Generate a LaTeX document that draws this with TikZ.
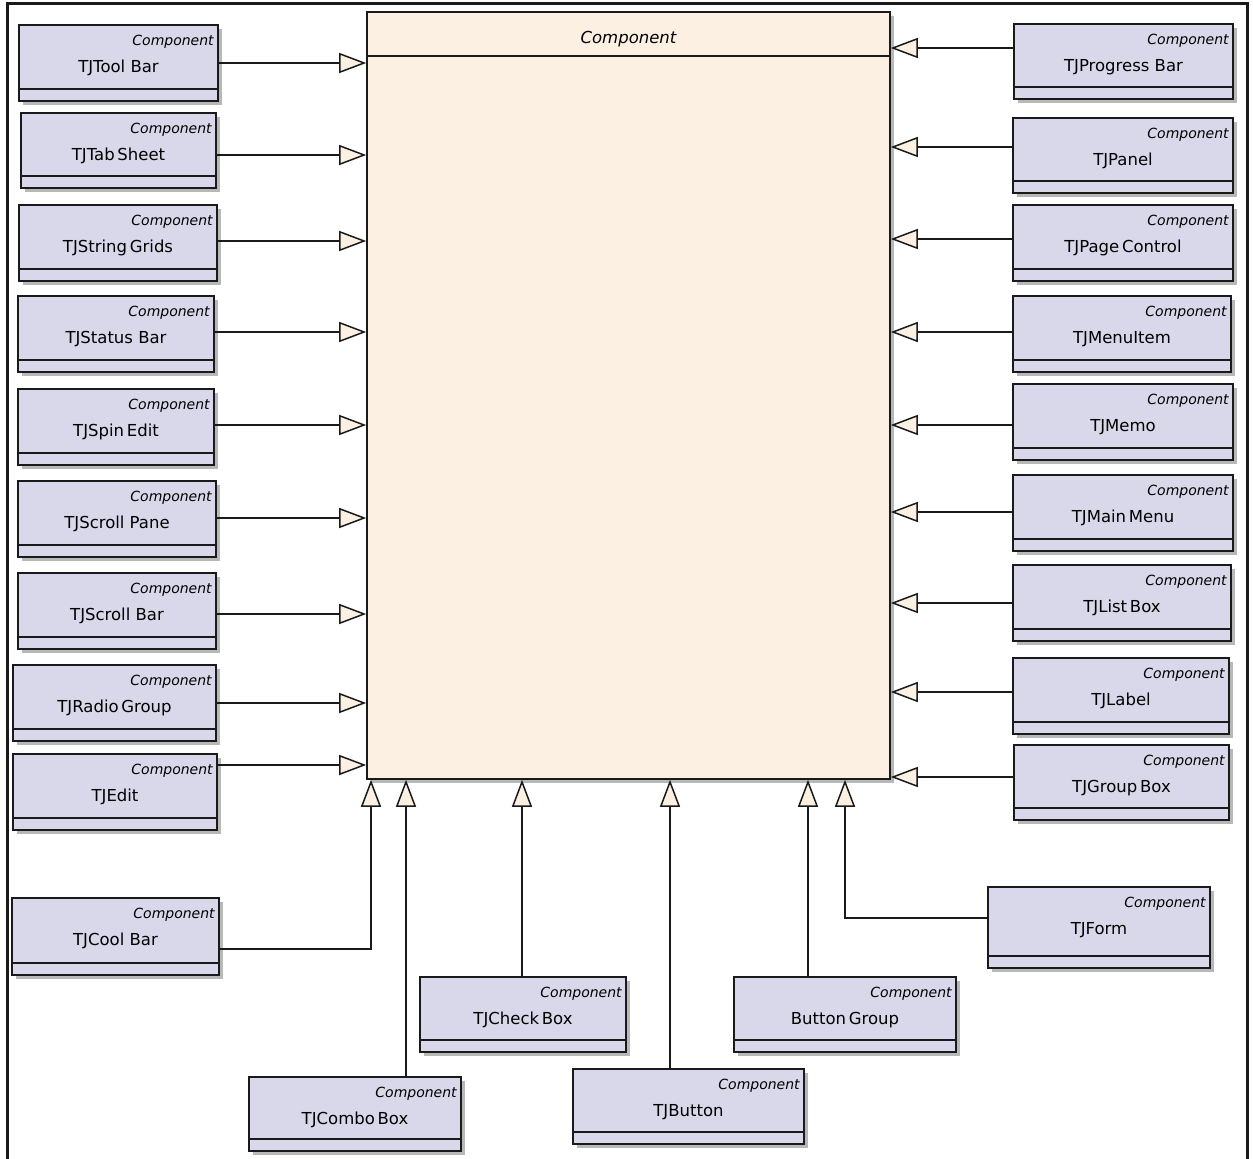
\documentclass[tikz,border=0pt]{standalone}
\usepackage{fontspec}
\setmainfont{DejaVu Sans}[ItalicFont={DejaVu Sans Oblique}]
\usetikzlibrary{arrows.meta,shadows,fit,calc}

\definecolor{clsfill}{HTML}{D8D8EA}
\definecolor{basefill}{HTML}{FBF0E2}
\definecolor{edge}{HTML}{1A1A1A}

\tikzset{
  clsbox/.style={draw=edge, line width=1.8pt, fill=clsfill, inner sep=0pt,
    drop shadow={shadow xshift=4pt, shadow yshift=-4pt, fill=black!28, opacity=1}},
  basebox/.style={draw=edge, line width=1.6pt, fill=basefill, inner sep=0pt,
    drop shadow={shadow xshift=4pt, shadow yshift=-4pt, fill=black!28, opacity=1}},
  stereo/.style={font=\fontsize{14}{14}\selectfont\itshape, anchor=base east, inner sep=0pt},
  clsname/.style={font=\fontsize{16.5}{16.5}\selectfont, anchor=base, inner sep=0pt},
  divider/.style={draw=edge, line width=1.8pt},
  inh/.style={draw=edge, line width=1.5pt,
    -{Triangle[length=27pt,width=20pt,fill=basefill,line width=1.5pt]}},
}

% UML class box: id, left, top, right, bottom, class name
\newcommand{\umlclass}[6]{%
  \coordinate (#1-a) at (#2,#3);
  \coordinate (#1-b) at (#4,#5);
  \node[clsbox, fit=(#1-a)(#1-b)] (#1) {};
  \node[stereo] (#1-st) at ($(#1.north east)+(-5,21)$) {Component};
  \node[clsname] (#1-nm) at ($(#1.north)+(0,48)$) {#6};
  \draw[divider] ($(#1.south west)+(0,-13)$) -- ($(#1.south east)+(0,-13)$);
}

\begin{document}
\begin{tikzpicture}[x=1pt, y=-1pt]
  \useasboundingbox (0,0) rectangle (1253,1159);
  \fill[white] (0,0) rectangle (1253,1159);
  % outer frame
  \draw[line width=3pt, edge] (7,1170) -- (7,3) -- (1247,3) -- (1247,1170);

  % base class
  \coordinate (main-a) at (367,12);
  \coordinate (main-b) at (890,779);
  \node[basebox, fit=(main-a)(main-b)] (main) {};
  \node[font=\fontsize{16.5}{16.5}\selectfont\itshape, anchor=base, inner sep=0pt]
    (main-st) at ($(main.north)+(0,32)$) {Component};
  \draw[draw=edge, line width=1.6pt] ($(main.north west)+(0,45)$) -- ($(main.north east)+(0,45)$);

  % left column
  \umlclass{tb}{19}{25}{218}{101}{TJTool Bar}
  \umlclass{ts}{21}{113}{216}{188}{TJTab\,Sheet}
  \umlclass{sg}{19}{205}{217}{281}{TJString\,Grids}
  \umlclass{sb}{18}{296}{214}{372}{TJStatus Bar}
  \umlclass{se}{18}{389}{214}{465}{TJSpin\,Edit}
  \umlclass{sp}{18}{481}{216}{557}{TJScroll Pane}
  \umlclass{sc}{18}{573}{216}{649}{TJScroll Bar}
  \umlclass{rg}{13}{665}{216}{741}{TJRadio\,Group}
  \umlclass{ed}{13}{754}{217}{830}{TJEdit}

  % right column
  \umlclass{pb}{1014}{24}{1233}{99}{TJProgress Bar}
  \umlclass{pn}{1013}{118}{1233}{193}{TJPanel}
  \umlclass{pc}{1013}{205}{1233}{281}{TJPage\,Control}
  \umlclass{mi}{1013}{296}{1231}{372}{TJMenuItem}
  \umlclass{mm}{1013}{384}{1233}{460}{TJMemo}
  \umlclass{mn}{1013}{475}{1233}{551}{TJMain\,Menu}
  \umlclass{lb}{1013}{565}{1231}{641}{TJList\,Box}
  \umlclass{lab}{1013}{658}{1229}{734}{TJLabel}
  \umlclass{gb}{1014}{745}{1229}{820}{TJGroup\,Box}

  % bottom row
  \umlclass{cb}{12}{898}{219}{975}{TJCool Bar}
  \umlclass{combo}{249}{1077}{461}{1151}{TJCombo\,Box}
  \umlclass{chk}{420}{977}{626}{1052}{TJCheck\,Box}
  \umlclass{btn}{573}{1069}{804}{1144}{TJButton}
  \umlclass{bg}{734}{977}{956}{1052}{Button\,Group}
  \umlclass{frm}{988}{887}{1210}{968}{TJForm}

  % generalisations from the left
  \draw[inh] (tb.east |- 0,63)  -- (main.west |- 0,63);
  \draw[inh] (ts.east |- 0,155) -- (main.west |- 0,155);
  \draw[inh] (sg.east |- 0,241) -- (main.west |- 0,241);
  \draw[inh] (sb.east |- 0,332) -- (main.west |- 0,332);
  \draw[inh] (se.east |- 0,425) -- (main.west |- 0,425);
  \draw[inh] (sp.east |- 0,518) -- (main.west |- 0,518);
  \draw[inh] (sc.east |- 0,614) -- (main.west |- 0,614);
  \draw[inh] (rg.east |- 0,703) -- (main.west |- 0,703);
  \draw[inh] (ed.east |- 0,765) -- (main.west |- 0,765);

  % generalisations from the right
  \draw[inh] (pb.west |- 0,48)   -- (main.east |- 0,48);
  \draw[inh] (pn.west |- 0,147)  -- (main.east |- 0,147);
  \draw[inh] (pc.west |- 0,239)  -- (main.east |- 0,239);
  \draw[inh] (mi.west |- 0,332)  -- (main.east |- 0,332);
  \draw[inh] (mm.west |- 0,425)  -- (main.east |- 0,425);
  \draw[inh] (mn.west |- 0,512)  -- (main.east |- 0,512);
  \draw[inh] (lb.west |- 0,603)  -- (main.east |- 0,603);
  \draw[inh] (lab.west |- 0,692) -- (main.east |- 0,692);
  \draw[inh] (gb.west |- 0,777)  -- (main.east |- 0,777);

  % generalisations from below
  \draw[inh] (cb.east |- 0,949) -| (main.south -| 371,0);
  \draw[inh] (combo.north -| 406,0) -- (main.south -| 406,0);
  \draw[inh] (chk.north -| 522,0)   -- (main.south -| 522,0);
  \draw[inh] (btn.north -| 670,0)   -- (main.south -| 670,0);
  \draw[inh] (bg.north -| 808,0)    -- (main.south -| 808,0);
  \draw[inh] (frm.west |- 0,918) -| (main.south -| 845,0);
\end{tikzpicture}
\end{document}
